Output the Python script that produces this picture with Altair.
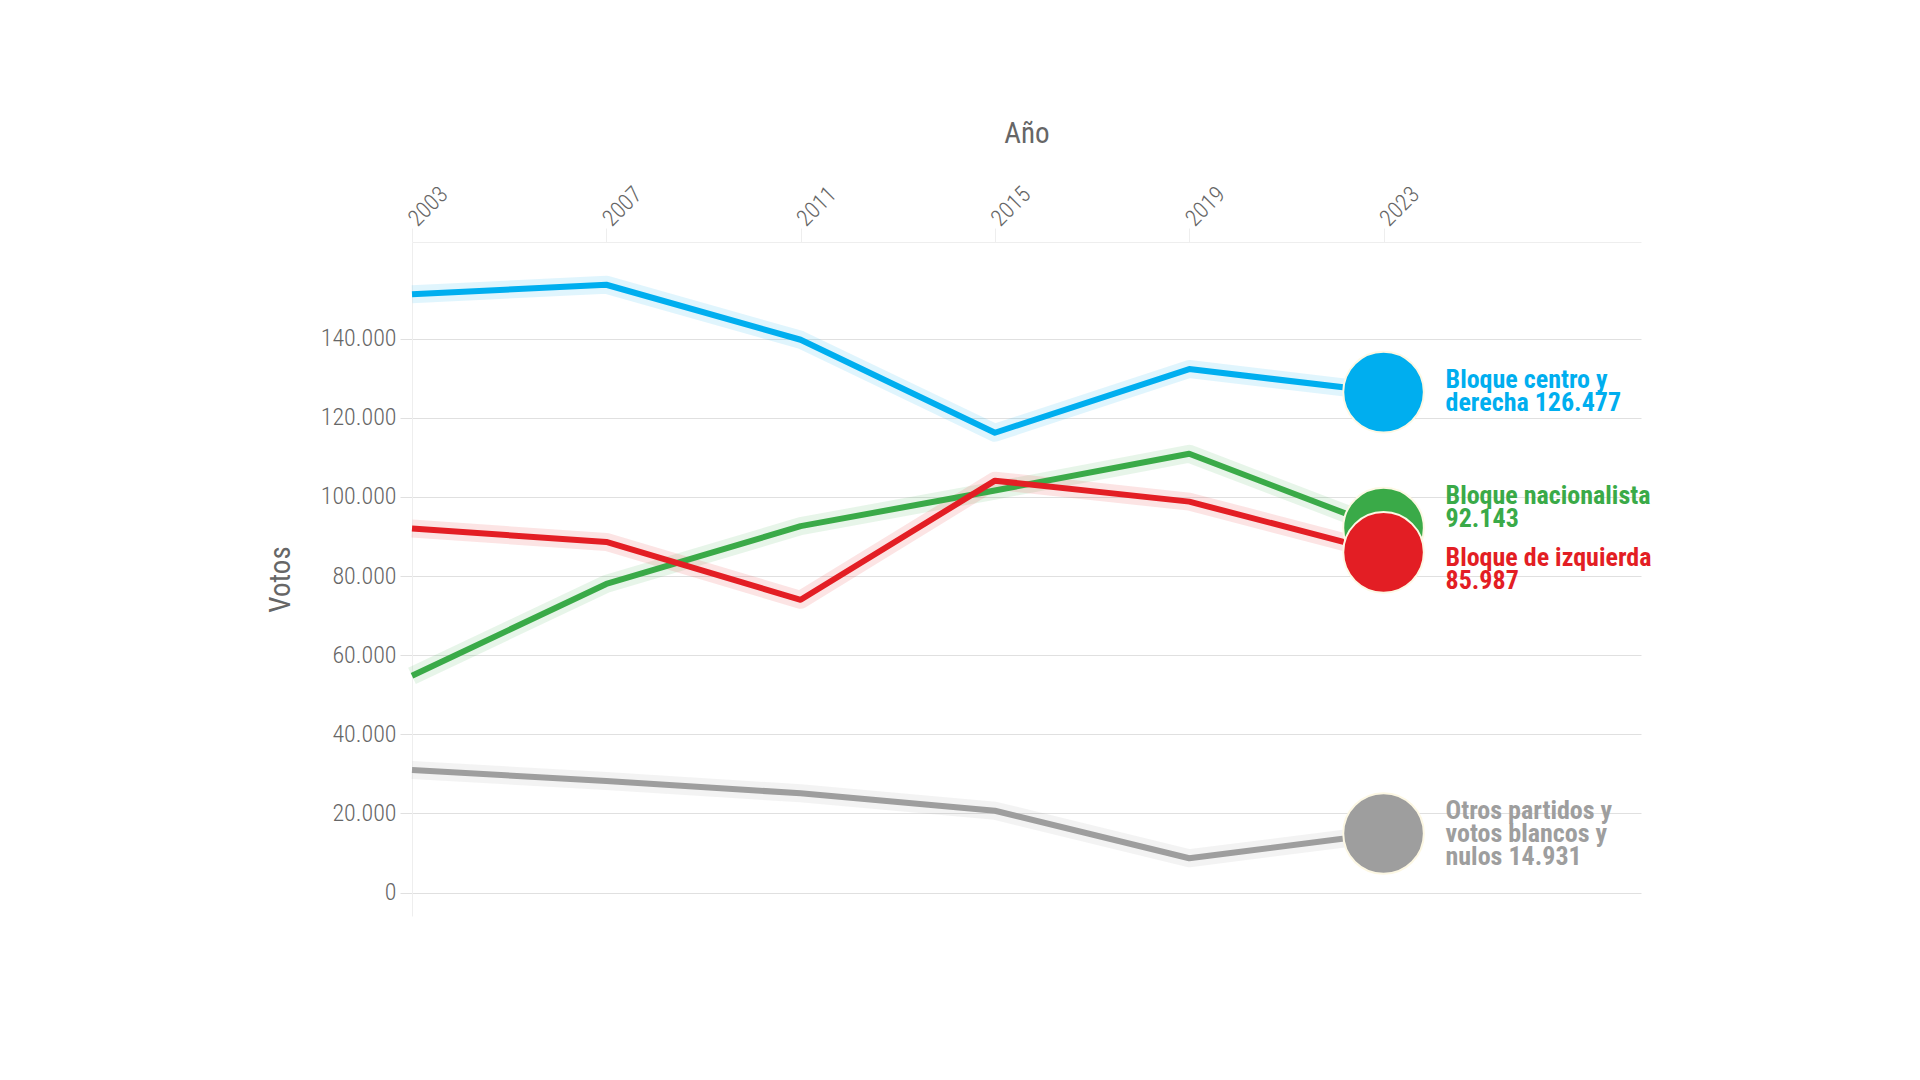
import altair as alt
import pandas as pd

# ---- data ----
years = [2003, 2007, 2011, 2015, 2019, 2023]
series = ["Bloque centro y derecha", "Bloque nacionalista", "Bloque de izquierda",
          "Otros partidos y votos blancos y nulos"]
centro_derecha = [151200, 153600, 139700, 116200, 132300, 126477]
nacionalista = [54800, 78000, 92600, 101600, 110900, 92143]
izquierda = [92000, 88600, 74000, 104100, 98800, 85987]
otros = [31000, 28200, 25100, 20700, 8700, 14931]
labels = ["Bloque centro y\nderecha 126.477", "Bloque nacionalista\n92.143",
          "Bloque de izquierda\n85.987", "Otros partidos y\nvotos blancos y\nnulos 14.931"]
year_ticks = [2003, 2007, 2011, 2015, 2019, 2023]
vote_ticks = [0, 20000, 40000, 60000, 80000, 100000, 120000, 140000]

# ---- styling ----
colors = ["#00aeef", "#3aaa48", "#e31e24", "#9e9e9e"]
label_dy = [-12, -32, 6, -23]
FONT = "Roboto Condensed, Liberation Sans Narrow, Roboto"

values = [centro_derecha, nacionalista, izquierda, otros]
rows = []
for s, vals in zip(series, values):
    for y, v in zip(years, vals):
        rows.append({"serie": s, "year": y, "votos": v})
df = pd.DataFrame(rows)
last = df[df["year"] == years[-1]].copy()
last["label"] = labels
last["order"] = range(len(last))

x = alt.X("year:Q",
          scale=alt.Scale(domain=[2003, 2028.3], nice=False, zero=False),
          axis=alt.Axis(orient="top", values=year_ticks, format="d", title="Año",
                        labelAngle=-45, labelAlign="left", labelBaseline="middle",
                        labelFontSize=23, labelColor="#666", labelFont=FONT,
                        labelPadding=6, tickSize=14, tickColor="#eeeeee",
                        domainColor="#eeeeee", grid=False,
                        titleFontSize=29, titleFontWeight="normal", titleColor="#666",
                        titleFont=FONT, titlePadding=34))
y = alt.Y("votos:Q",
          scale=alt.Scale(domain=[-5900, 164400], nice=False, zero=False),
          axis=alt.Axis(values=vote_ticks, title="Votos",
                        labelExpr="replace(format(datum.value, ',d'), /,/g, '.')",
                        labelFontSize=24, labelColor="#666", labelFont=FONT,
                        labelPadding=4, tickSize=12, tickColor="#e0e0e0",
                        domainColor="#eeeeee", gridColor="#e0e0e0",
                        titleFontSize=29, titleFontWeight="normal", titleColor="#666",
                        titleFont=FONT, titlePadding=25))
color = alt.Color("serie:N", scale=alt.Scale(domain=series, range=colors), legend=None)

glow = alt.Chart(df).mark_line(strokeWidth=18, opacity=0.12, strokeJoin="round").encode(
    x=x, y=y, color=color, detail="serie:N")
lines = alt.Chart(df).mark_line(strokeWidth=6, strokeJoin="round").encode(
    x=x, y=y, color=color, detail="serie:N")
dots = alt.Chart(last).mark_circle(size=6500, opacity=1, stroke="#fdf8e4", strokeWidth=2).encode(
    x=x, y=y, color=color, order=alt.Order("order:Q"))

texts = []
for s, c, dy in zip(series, colors, label_dy):
    texts.append(
        alt.Chart(last[last["serie"] == s]).mark_text(
            align="left", baseline="middle", dx=62, dy=dy, fontSize=26, fontWeight="bold",
            font=FONT, lineBreak="\n", lineHeight=23, color=c
        ).encode(x=x, y=y, text="label:N")
    )

chart = alt.layer(glow, lines, dots, *texts).properties(
    width=1229, height=674,
    autosize=alt.AutoSizeParams(type="none"),
    padding={"left": 404, "top": 234, "right": 260, "bottom": 150},
).configure_view(stroke=None).configure_axis(labelFontWeight=300)

chart.save("out.html", embed_options={"renderer": "svg", "actions": False})
